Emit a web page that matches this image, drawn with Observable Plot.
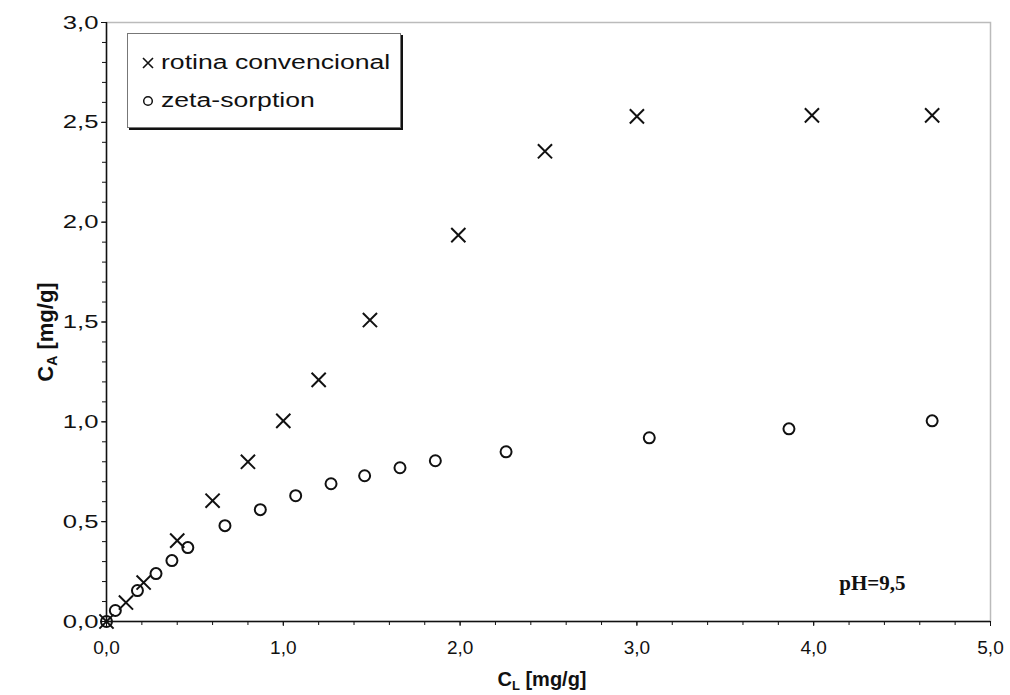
<!DOCTYPE html>
<html>
<head>
<meta charset="utf-8">
<script src="https://cdn.jsdelivr.net/npm/d3@7"></script>
<script src="https://cdn.jsdelivr.net/npm/@observablehq/plot@0.6"></script>
<style>
  html, body { margin: 0; padding: 0; background: #fff; }
  #wrap { position: relative; width: 1010px; height: 695px; font-family: "Liberation Sans", Arial, sans-serif; }
  #legend {
    position: absolute; left: 127px; top: 33px; width: 274px; height: 95px;
    background: #fff; border: 1px solid #777; box-shadow: 2px 2px 0 #111;
    font-size: 20px; color: #111; box-sizing: border-box;
  }
  #legend .row { position: absolute; left: 13px; display: flex; align-items: center; white-space: nowrap; }
  #legend svg { margin-right: 6px; }
  #legend span { display: inline-block; transform: scaleX(1.33); transform-origin: left center; }
</style>
</head>
<body>
<div id="wrap"></div>
<script>
// Series: "rotina convencional" (crosses)
const convX = [0, 0.11, 0.21, 0.40, 0.60, 0.80, 1.00, 1.20, 1.49, 1.99, 2.48, 3.00, 3.99, 4.67];
const convY = [0, 0.095, 0.195, 0.405, 0.605, 0.80, 1.005, 1.21, 1.51, 1.935, 2.355, 2.53, 2.535, 2.535];
// Series: "zeta-sorption" (circles)
const zetaX = [0, 0.05, 0.175, 0.28, 0.37, 0.46, 0.67, 0.87, 1.07, 1.27, 1.46, 1.66, 1.86, 2.26, 3.07, 3.86, 4.67];
const zetaY = [0, 0.055, 0.155, 0.24, 0.305, 0.37, 0.48, 0.56, 0.63, 0.69, 0.73, 0.77, 0.805, 0.85, 0.92, 0.965, 1.005];
// Ticks
const xMajor = [0, 1, 2, 3, 4, 5];
const xMinor = d3.range(0, 26).map(i => i / 5);
const yMajor = [0, 0.5, 1, 1.5, 2, 2.5, 3];
const yMinor = d3.range(0, 31).map(i => i / 10);
const seriesNames = ["rotina convencional", "zeta-sorption"];
const annotation = "pH=9,5";

const conv = convX.map((x, i) => ({x, y: convY[i]}));
const zeta = zetaX.map((x, i) => ({x, y: zetaY[i]}));
const fmt = d => d.toFixed(1).replace(".", ",");

const chart = Plot.plot({
  width: 1010,
  height: 695,
  marginLeft: 106,
  marginRight: 20,
  marginTop: 22,
  marginBottom: 74,
  style: {fontFamily: "Liberation Sans, Arial, sans-serif", fontSize: "19px", color: "#111", background: "#fff"},
  x: {type: "linear", domain: [0, 5]},
  y: {type: "linear", domain: [0, 3]},
  marks: [
    Plot.frame({stroke: "#bbb", strokeWidth: 1.5}),
    Plot.axisX({ticks: xMinor, tickSize: 4, tickFormat: () => "", label: null, stroke: "#111"}),
    Plot.axisX({ticks: xMajor, tickSize: 5, tickPadding: 14, tickFormat: fmt, label: null, fill: "#111", stroke: "#111"}),
    Plot.axisY({ticks: yMinor, tickSize: 4, tickFormat: () => "", label: null, stroke: "#111"}),
    Plot.axisY({ticks: yMajor, tickSize: 5, tickPadding: 3, tickFormat: fmt, label: null, fill: "#111", stroke: "#111"}),
    Plot.ruleX([0], {stroke: "#111", strokeWidth: 1.5}),
    Plot.ruleY([0], {stroke: "#111", strokeWidth: 1.5}),
    Plot.dot(conv, {x: "x", y: "y", symbol: "times", r: 6.5, stroke: "#111", strokeWidth: 2}),
    Plot.dot(zeta, {x: "x", y: "y", symbol: "circle", r: 5.5, stroke: "#111", strokeWidth: 2, fill: "none"}),
    Plot.text([annotation], {frameAnchor: "bottom-right", dx: -85, dy: -32, text: d => d, fontFamily: "Liberation Serif, Times New Roman, serif", fontWeight: "bold", fontSize: 21, fill: "#111", textAnchor: "end"})
  ]
});

const wrap = document.getElementById("wrap");
wrap.appendChild(chart);

const svg = d3.select(chart);
// Widen y tick labels (the reference glyphs are horizontally stretched)
svg.selectAll('g[aria-label="y-axis tick label"] text').each(function() {
  const t = this.getAttribute("transform") || "";
  this.setAttribute("transform", t + " scale(1.35,1)");
});

// Axis titles with subscripts
const xt = svg.append("text").attr("x", 542).attr("y", 686).attr("text-anchor", "middle")
  .attr("font-weight", "bold").attr("font-size", 20).attr("fill", "#111");
xt.append("tspan").text("C");
xt.append("tspan").attr("font-size", 13).attr("dy", 4).text("L");
xt.append("tspan").attr("dy", -4).text(" [mg/g]");
const yt = svg.append("text").attr("transform", "translate(53,332) rotate(-90)").attr("text-anchor", "middle")
  .attr("font-weight", "bold").attr("font-size", 22).attr("fill", "#111");
yt.append("tspan").text("C");
yt.append("tspan").attr("font-size", 14).attr("dy", 4).text("A");
yt.append("tspan").attr("dy", -4).text(" [mg/g]");

// Legend
const legend = document.createElement("div");
legend.id = "legend";
legend.innerHTML = `
  <div class="row" style="top:17px"><svg width="14" height="14" viewBox="-7 -7 14 14"><path d="M-5,-5L5,5M-5,5L5,-5" stroke="#111" stroke-width="1.6"/></svg><span>${seriesNames[0]}</span></div>
  <div class="row" style="top:55px"><svg width="14" height="14" viewBox="-7 -7 14 14"><circle r="4.3" fill="none" stroke="#111" stroke-width="1.5"/></svg><span>${seriesNames[1]}</span></div>`;
wrap.appendChild(legend);
</script>
</body>
</html>
